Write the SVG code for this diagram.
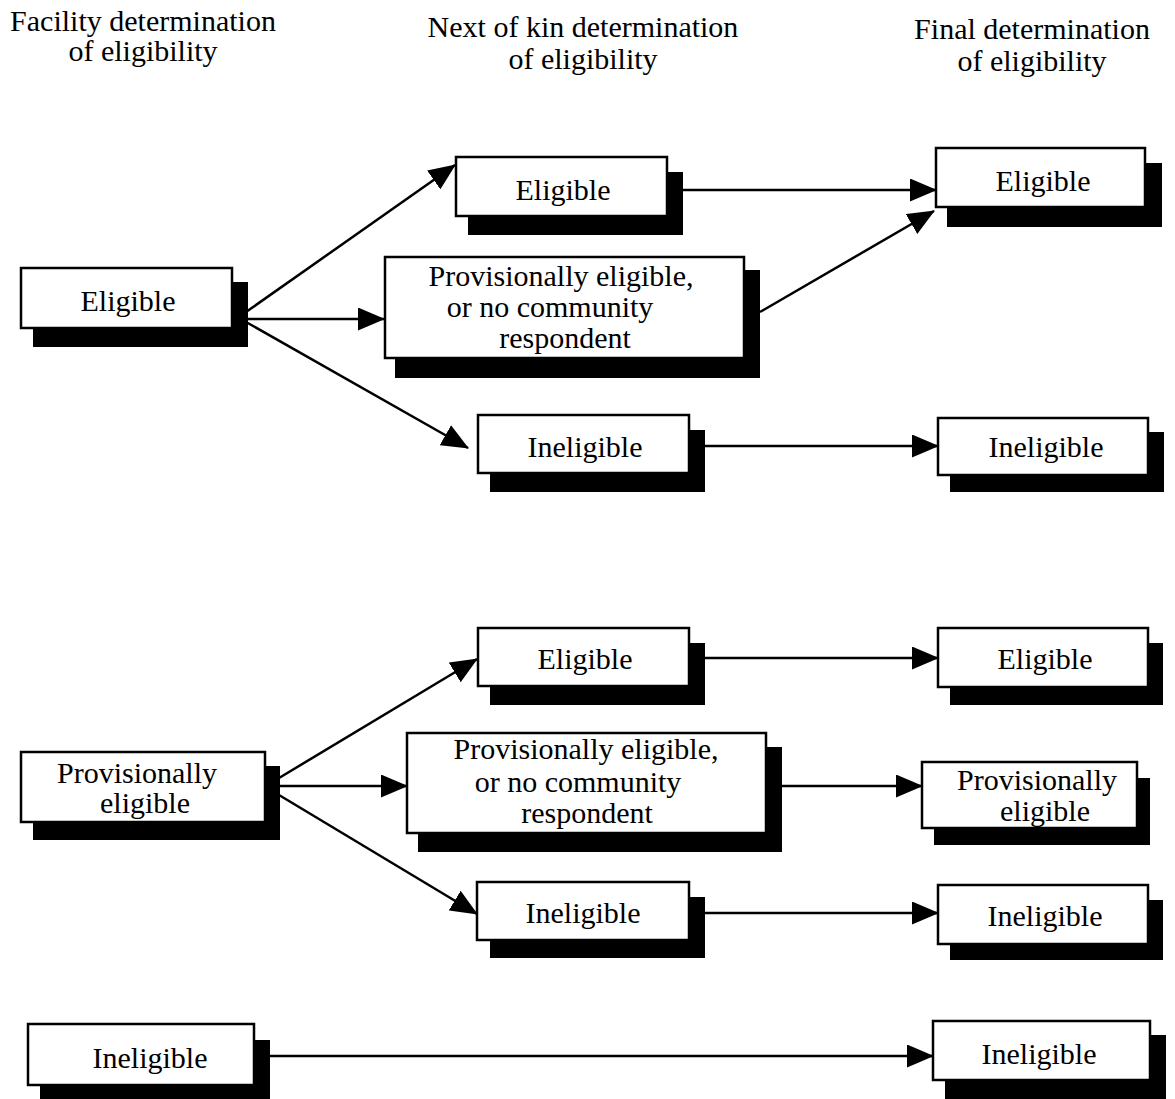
<svg xmlns="http://www.w3.org/2000/svg" width="1175" height="1099" viewBox="0 0 1175 1099">
<style>
text{font-family:"Liberation Serif","Times New Roman",serif;font-size:30px;fill:#000;text-anchor:middle}
.box{fill:#fff;stroke:#000;stroke-width:2.5}
.sh{fill:#000}
.c line{stroke:#000;stroke-width:2.5;marker-end:url(#ah)}
</style>
<defs>
<marker id="ah" markerWidth="27" markerHeight="23" refX="26" refY="11.5" orient="auto" markerUnits="userSpaceOnUse"><path d="M0,0 L27,11.5 L0,23 z" fill="#000"/></marker>
</defs>
<rect width="1175" height="1099" fill="#fff"/>
<g id="headers">
<text x="143" y="31">Facility determination</text>
<text x="143" y="61">of eligibility</text>
<text x="583" y="37">Next of kin determination</text>
<text x="583" y="69">of eligibility</text>
<text x="1032" y="39">Final determination</text>
<text x="1032" y="71">of eligibility</text>
</g>
<g class="c" id="connectors">
<line x1="246" y1="312" x2="455" y2="165"/>
<line x1="246" y1="319" x2="384" y2="319"/>
<line x1="246" y1="322" x2="468" y2="448"/>
<line x1="683" y1="190" x2="936" y2="190"/>
<line x1="760" y1="312" x2="934" y2="211"/>
<line x1="705" y1="446" x2="938" y2="446"/>
<line x1="279" y1="778" x2="477" y2="659"/>
<line x1="279" y1="786" x2="407" y2="786"/>
<line x1="279" y1="795" x2="477" y2="914"/>
<line x1="705" y1="658" x2="938" y2="658"/>
<line x1="782" y1="786" x2="922" y2="786"/>
<line x1="705" y1="913" x2="938" y2="913"/>
<line x1="270" y1="1056" x2="933" y2="1056"/>
</g>
<g id="facility-eligible">
<rect class="sh" x="33" y="282" width="215" height="65"/>
<rect class="box" x="21" y="268" width="211" height="60"/>
<text x="128" y="311">Eligible</text>
</g>
<g id="nok-eligible-1">
<rect class="sh" x="468" y="172" width="215" height="63"/>
<rect class="box" x="456" y="157" width="211" height="59"/>
<text x="563" y="200">Eligible</text>
</g>
<g id="nok-provisional-1">
<rect class="sh" x="395" y="270" width="365" height="108"/>
<rect class="box" x="385" y="257" width="359" height="101"/>
<text x="561" y="286">Provisionally eligible,</text>
<text x="550" y="317">or no community</text>
<text x="565" y="348">respondent</text>
</g>
<g id="nok-ineligible-1">
<rect class="sh" x="490" y="430" width="215" height="62"/>
<rect class="box" x="478" y="415" width="211" height="58"/>
<text x="585" y="457">Ineligible</text>
</g>
<g id="final-eligible-1">
<rect class="sh" x="947" y="163" width="215" height="64"/>
<rect class="box" x="936" y="148" width="209" height="59"/>
<text x="1043" y="191">Eligible</text>
</g>
<g id="final-ineligible-1">
<rect class="sh" x="950" y="432" width="214" height="60"/>
<rect class="box" x="938" y="418" width="210" height="57"/>
<text x="1046" y="457">Ineligible</text>
</g>
<g id="facility-provisional">
<rect class="sh" x="33" y="766" width="247" height="74"/>
<rect class="box" x="21" y="752" width="244" height="70"/>
<text x="137" y="783">Provisionally</text>
<text x="145" y="813">eligible</text>
</g>
<g id="nok-eligible-2">
<rect class="sh" x="490" y="643" width="215" height="62"/>
<rect class="box" x="478" y="628" width="211" height="58"/>
<text x="585" y="669">Eligible</text>
</g>
<g id="nok-provisional-2">
<rect class="sh" x="418" y="747" width="364" height="105"/>
<rect class="box" x="407" y="733" width="359" height="100"/>
<text x="586" y="759">Provisionally eligible,</text>
<text x="578" y="792">or no community</text>
<text x="587" y="823">respondent</text>
</g>
<g id="nok-ineligible-2">
<rect class="sh" x="490" y="897" width="215" height="61"/>
<rect class="box" x="477" y="882" width="212" height="58"/>
<text x="583" y="923">Ineligible</text>
</g>
<g id="final-eligible-2">
<rect class="sh" x="950" y="643" width="213" height="62"/>
<rect class="box" x="938" y="628" width="210" height="59"/>
<text x="1045" y="669">Eligible</text>
</g>
<g id="final-provisional">
<rect class="sh" x="934" y="778" width="216" height="67"/>
<rect class="box" x="922" y="762" width="215" height="66"/>
<text x="1037" y="790">Provisionally</text>
<text x="1045" y="821">eligible</text>
</g>
<g id="final-ineligible-2">
<rect class="sh" x="950" y="900" width="213" height="60"/>
<rect class="box" x="938" y="885" width="210" height="59"/>
<text x="1045" y="926">Ineligible</text>
</g>
<g id="facility-ineligible">
<rect class="sh" x="40" y="1040" width="230" height="59"/>
<rect class="box" x="28" y="1024" width="226" height="61"/>
<text x="150" y="1068">Ineligible</text>
</g>
<g id="final-ineligible-3">
<rect class="sh" x="945" y="1035" width="221" height="64"/>
<rect class="box" x="933" y="1021" width="217" height="59"/>
<text x="1039" y="1064">Ineligible</text>
</g>
</svg>
